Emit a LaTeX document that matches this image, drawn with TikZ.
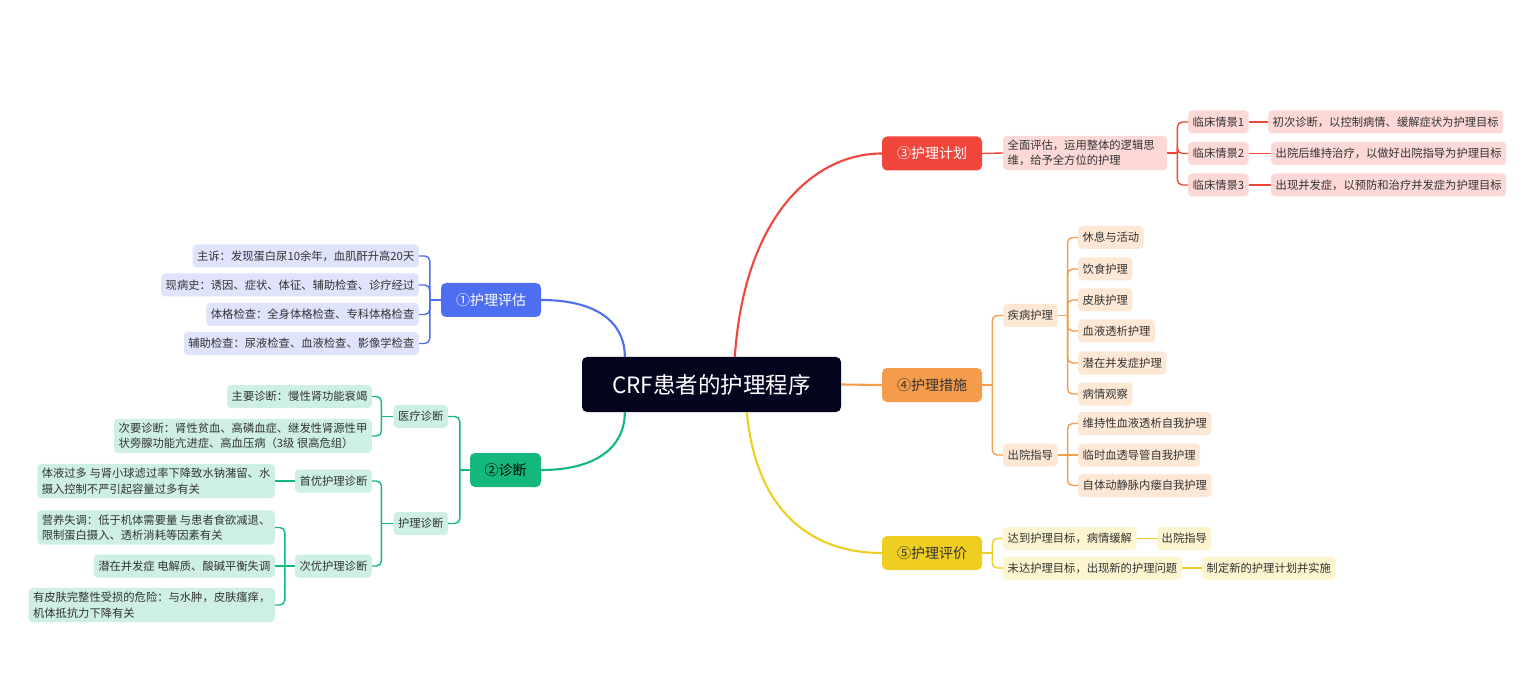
\documentclass[tikz,border=0pt]{standalone}
\usepackage{fontspec}
\setmainfont{Noto Sans CJK SC}
\usetikzlibrary{calc}
\definecolor{ctrc}{HTML}{04041F}
\definecolor{bluec}{HTML}{4E6EF2}
\definecolor{bluel}{HTML}{DFE3FC}
\definecolor{greenc}{HTML}{15B87C}
\definecolor{greenl}{HTML}{CDF0E2}
\definecolor{redc}{HTML}{F1463C}
\definecolor{redl}{HTML}{FCD8D6}
\definecolor{orangec}{HTML}{F49C4C}
\definecolor{orangel}{HTML}{FDE8D5}
\definecolor{yellowc}{HTML}{EFCE22}
\definecolor{yellowl}{HTML}{FCF5D0}
\definecolor{txt}{HTML}{333333}
\tikzset{
  leaf/.style={rounded corners=4pt, inner xsep=4.5pt, inner ysep=4pt, minimum height=23pt,
    font=\fontsize{11.3}{15.5}\selectfont, text=txt, align=left},
  bleaf/.style={leaf, fill=bluel},
  gleaf/.style={leaf, fill=greenl},
  rleaf/.style={leaf, fill=redl},
  oleaf/.style={leaf, fill=orangel},
  yleaf/.style={leaf, fill=yellowl},
  branch/.style={rounded corners=5pt, minimum width=100pt, minimum height=34pt, inner sep=0pt,
    font=\fontsize{14}{16}\selectfont},
  mainline/.style={line width=2.1pt},
  subline/.style={line width=1.4pt},
  brk/.style={subline, rounded corners=5pt},
}
\begin{document}
\begin{tikzpicture}[x=1pt,y=-1pt]
\useasboundingbox[fill=white] (0,0) rectangle (1536,684);

% center
\node[fill=ctrc, text=white, rounded corners=5pt, minimum width=259pt, minimum height=55pt,
  inner sep=0pt, font=\fontsize{22.5}{24}\selectfont] (ctr) at (711.5,384.5) {CRF患者的护理程序};

% branches
\node[branch, fill=bluec, text=white] (A) at (491,300) {①护理评估};
\node[branch, fill=greenc, text=black, minimum width=71pt] (B) at (505.5,470) {②诊断};
\node[branch, fill=redc, text=white] (C) at (932,153.5) {③护理计划};
\node[branch, fill=orangec, text=txt] (D) at (932,385) {④护理措施};
\node[branch, fill=yellowc, text=txt] (E) at (932,553) {⑤护理评价};

% main connectors
\draw[mainline, bluec] ([xshift=43pt]ctr.north west) .. controls +(0,-35) and +(55,0) .. (A.east);
\draw[mainline, greenc] ([xshift=43pt]ctr.south west) .. controls +(0,35) and +(55,0) .. (B.east);
\draw[mainline, redc] ([xshift=153pt]ctr.north west) .. controls +(10,-145) and +(-65,0) .. (C.west);
\draw[mainline, yellowc] ([xshift=165pt]ctr.south west) .. controls +(10,105) and +(-65,0) .. (E.west);
\draw[mainline, orangec] (ctr.east) -- (D.west);

% ---------- ① ----------
\node[bleaf, anchor=east] (A1) at (419,256) {主诉：发现蛋白尿10余年，血肌酐升高20天};
\node[bleaf, anchor=east] (A2) at (419,285) {现病史：诱因、症状、体征、辅助检查、诊疗经过};
\node[bleaf, anchor=east] (A3) at (419,314.5) {体格检查：全身体格检查、专科体格检查};
\node[bleaf, anchor=east] (A4) at (419,343.5) {辅助检查：尿液检查、血液检查、影像学检查};
\coordinate (jA) at ($(A.west)+(-11,0)$);
\draw[subline, bluec] (A.west) -- (jA);
\foreach \n in {A1,A2,A3,A4} \draw[brk, bluec] (jA) |- (\n.east);

% ---------- ② ----------
\node[gleaf, anchor=east] (B1) at (448,416.5) {医疗诊断};
\node[gleaf, anchor=east] (B2) at (448,523.5) {护理诊断};
\coordinate (jB) at ($(B.west)+(-10,0)$);
\draw[subline, greenc] (B.west) -- (jB);
\foreach \n in {B1,B2} \draw[brk, greenc] (jB) |- (\n.east);

\node[gleaf, anchor=east] (B11) at (372,396.5) {主要诊断：慢性肾功能衰竭};
\node[gleaf, anchor=east] (B12) at (372,436) {次要诊断：肾性贫血、高磷血症、继发性肾源性甲\\状旁腺功能亢进症、高血压病（3级 很高危组）};
\coordinate (jB1) at ($(B1.west)+(-12,0)$);
\draw[subline, greenc] (B1.west) -- (jB1);
\foreach \n in {B11,B12} \draw[brk, greenc] (jB1) |- (\n.east);

\node[gleaf, anchor=east] (B21) at (372,481) {首优护理诊断};
\node[gleaf, anchor=east] (B22) at (372,566) {次优护理诊断};
\coordinate (jB2) at ($(B2.west)+(-12,0)$);
\draw[subline, greenc] (B2.west) -- (jB2);
\foreach \n in {B21,B22} \draw[brk, greenc] (jB2) |- (\n.east);

\node[gleaf, anchor=east] (B211) at (275,481) {体液过多 与肾小球滤过率下降致水钠潴留、水\\摄入控制不严引起容量过多有关};
\draw[subline, greenc] (B21.west) -- (B211.east);

\node[gleaf, anchor=east] (B221) at (275,527.5) {营养失调：低于机体需要量 与患者食欲减退、\\限制蛋白摄入、透析消耗等因素有关};
\node[gleaf, anchor=east] (B222) at (275,566) {潜在并发症 电解质、酸碱平衡失调};
\node[gleaf, anchor=east] (B223) at (275,605) {有皮肤完整性受损的危险：与水肿，皮肤瘙痒，\\机体抵抗力下降有关};
\coordinate (jB22) at ($(B22.west)+(-10,0)$);
\draw[subline, greenc] (B22.west) -- (B222.east);
\foreach \n in {B221,B223} \draw[brk, greenc] (jB22) |- (\n.east);

% ---------- ③ ----------
\node[rleaf, anchor=west, text width=155pt] (C1) at (1003,153) {全面评估，运用整体的逻辑思\\维，给予全方位的护理};
\draw[subline, redc] (C.east) -- (C1.west);
\coordinate (jC) at ($(C1.east)+(10,0)$);
\draw[subline, redc] (C1.east) -- (jC);
\node[rleaf, anchor=west] (C11) at (1188,122) {临床情景1};
\node[rleaf, anchor=west] (C12) at (1188,153.5) {临床情景2};
\node[rleaf, anchor=west] (C13) at (1188,185) {临床情景3};
\foreach \n in {C11,C12,C13} \draw[brk, redc] (jC) |- (\n.west);
\node[rleaf, anchor=west] (C111) at (1268,122) {初次诊断，以控制病情、缓解症状为护理目标};
\node[rleaf, anchor=west] (C121) at (1271,153.5) {出院后维持治疗，以做好出院指导为护理目标};
\node[rleaf, anchor=west] (C131) at (1271,185) {出现并发症，以预防和治疗并发症为护理目标};
\draw[subline, redc] (C11.east) -- (C111.west);
\draw[subline, redc] (C12.east) -- (C121.west);
\draw[subline, redc] (C13.east) -- (C131.west);

% ---------- ④ ----------
\node[oleaf, anchor=west] (D1) at (1003,315.5) {疾病护理};
\node[oleaf, anchor=west] (D2) at (1003,455) {出院指导};
\coordinate (jD) at ($(D.east)+(10,0)$);
\draw[subline, orangec] (D.east) -- (jD);
\foreach \n in {D1,D2} \draw[brk, orangec] (jD) |- (\n.west);

\node[oleaf, anchor=west] (D11) at (1078,237.5) {休息与活动};
\node[oleaf, anchor=west] (D12) at (1078,269) {饮食护理};
\node[oleaf, anchor=west] (D13) at (1078,300) {皮肤护理};
\node[oleaf, anchor=west] (D14) at (1078,331) {血液透析护理};
\node[oleaf, anchor=west] (D15) at (1078,363) {潜在并发症护理};
\node[oleaf, anchor=west] (D16) at (1078,394) {病情观察};
\coordinate (jD1) at ($(D1.east)+(10,0)$);
\draw[subline, orangec] (D1.east) -- (jD1);
\foreach \n in {D11,D12,D13,D14,D15,D16} \draw[brk, orangec] (jD1) |- (\n.west);

\node[oleaf, anchor=west] (D21) at (1078,423.5) {维持性血液透析自我护理};
\node[oleaf, anchor=west] (D22) at (1078,455) {临时血透导管自我护理};
\node[oleaf, anchor=west] (D23) at (1078,485.5) {自体动静脉内瘘自我护理};
\coordinate (jD2) at ($(D2.east)+(10,0)$);
\draw[subline, orangec] (D2.east) -- (D22.west);
\foreach \n in {D21,D23} \draw[brk, orangec] (jD2) |- (\n.west);

% ---------- ⑤ ----------
\node[yleaf, anchor=west] (E1) at (1003,538.5) {达到护理目标，病情缓解};
\node[yleaf, anchor=west] (E2) at (1003,568) {未达护理目标，出现新的护理问题};
\coordinate (jE) at ($(E.east)+(10,0)$);
\draw[subline, yellowc] (E.east) -- (jE);
\foreach \n in {E1,E2} \draw[brk, yellowc] (jE) |- (\n.west);
\node[yleaf, anchor=west] (E11) at (1157,538.5) {出院指导};
\node[yleaf, anchor=west] (E21) at (1202,568) {制定新的护理计划并实施};
\draw[subline, yellowc] (E1.east) -- (E11.west);
\draw[subline, yellowc] (E2.east) -- (E21.west);
\end{tikzpicture}
\end{document}
